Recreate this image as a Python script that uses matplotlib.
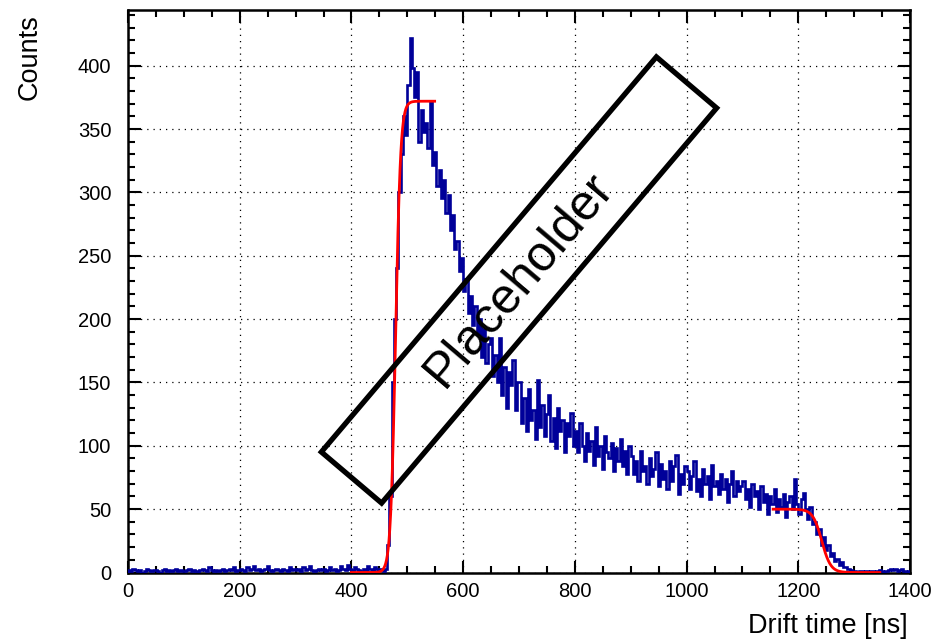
import numpy as np
import matplotlib.pyplot as plt
from matplotlib.patches import Polygon
from matplotlib.ticker import MultipleLocator

plt.rcParams['font.family'] = ['Liberation Sans', 'DejaVu Sans']

# drift time histogram, 4 ns bins from 0 to 1400 ns (one row = 100 ns)
bin_width = 4
counts = [
    2, 1, 3, 2, 1, 2, 0, 1, 3, 2, 1, 2, 2, 1, 0, 2, 3, 1, 2, 1, 2, 3, 1, 2, 1,
    1, 2, 3, 1, 2, 1, 0, 2, 3, 2, 1, 4, 2, 1, 2, 1, 2, 3, 1, 2, 3, 2, 4, 1, 2,
    3, 2, 1, 4, 2, 3, 5, 2, 3, 1, 2, 3, 5, 2, 1, 2, 3, 2, 1, 3, 2, 1, 4, 2, 3,
    2, 3, 1, 4, 2, 3, 5, 2, 1, 2, 3, 2, 3, 1, 2, 4, 2, 3, 1, 2, 5, 3, 2, 6, 3,
    2, 4, 3, 2, 1, 3, 2, 5, 3, 2, 4, 3, 2, 3, 1, 3, 22, 60, 150, 200, 240, 300, 330, 360, 345,
    385, 422, 398, 375, 395, 340, 365, 348, 355, 335, 372, 322, 332, 305, 318, 296, 310, 284, 298, 270, 282, 255, 262, 238, 248,
    222, 232, 205, 218, 195, 210, 188, 200, 170, 192, 165, 180, 185, 155, 172, 150, 185, 140, 162, 130, 158, 148, 168, 128, 150,
    150, 118, 138, 112, 145, 120, 128, 105, 152, 115, 132, 108, 125, 140, 104, 122, 98, 130, 112, 120, 95, 118, 108, 126, 100,
    112, 95, 118, 100, 88, 110, 96, 104, 85, 115, 92, 100, 82, 108, 95, 90, 102, 80, 98, 88, 105, 84, 96, 78, 100,
    92, 78, 88, 72, 96, 80, 84, 70, 90, 76, 82, 95, 68, 86, 74, 80, 66, 88, 72, 84, 93, 62, 78, 70, 84,
    80, 66, 76, 88, 64, 74, 60, 82, 70, 76, 58, 85, 68, 72, 62, 78, 66, 74, 56, 70, 80, 60, 72, 64, 68,
    72, 58, 66, 52, 70, 60, 64, 50, 68, 56, 62, 46, 60, 54, 66, 48, 58, 52, 62, 44, 56, 60, 50, 74, 54,
    46, 58, 63, 50, 42, 52, 38, 40, 30, 34, 22, 28, 18, 22, 13, 15, 9, 11, 6, 8, 4, 4, 3, 2, 1,
    1, 0, 1, 1, 0, 1, 0, 1, 1, 0, 1, 2, 1, 0, 1, 2, 3, 2, 3, 1, 2, 3, 1, 0, 1,
]

# leading edge fit (Fermi function)
rise_amp, rise_t0, rise_width = 372, 479, 4.5
rise_range = (400, 549)
# trailing edge fit
fall_amp, fall_t0, fall_width = 50, 1242, 8.0
fall_range = (1155, 1346)

edges = np.arange(len(counts) + 1) * bin_width

W, H = 931, 641
fig = plt.figure(figsize=(W / 100, H / 100), dpi=100)
ax = fig.add_axes([128 / W, 1 - 572.5 / H, (910 - 128) / W, (572.5 - 10) / H])

ax.stairs(counts, edges, color='#000099', linewidth=1.9, zorder=3)

t = np.linspace(*rise_range, 400)
ax.plot(t, rise_amp / (1 + np.exp(-(t - rise_t0) / rise_width)), color='red', lw=2, zorder=4)
t = np.linspace(*fall_range, 400)
ax.plot(t, fall_amp / (1 + np.exp((t - fall_t0) / fall_width)), color='red', lw=2, zorder=4)

ax.set_xlim(0, 1400)
ax.set_ylim(0, 444)
ax.xaxis.set_major_locator(MultipleLocator(200))
ax.xaxis.set_minor_locator(MultipleLocator(50))
ax.yaxis.set_major_locator(MultipleLocator(50))
ax.yaxis.set_minor_locator(MultipleLocator(10))
ax.tick_params(which='both', direction='in', top=True, right=True, width=1.5, labelsize=14.5)
ax.tick_params(which='major', length=9)
ax.tick_params(which='minor', length=5)
ax.tick_params(axis='y', pad=12)
ax.tick_params(axis='x', pad=7)
ax.grid(True, which='major', color='black', linestyle=(0, (1, 4)), linewidth=0.9)
for s in ax.spines.values():
    s.set_linewidth(1.8)

fig.text(30 / W, 1 - 14 / H, 'Counts', rotation=90, ha='center', va='top', fontsize=19.5)
fig.text(908 / W, 1 - 626 / H, 'Drift time [ns]', ha='right', va='center', fontsize=19.5)

# rotated placeholder box, in pixel coordinates
cx, cy = 519, H - 280
length, width, ang = 518, 79, np.deg2rad(49.7)
u = np.array([np.cos(ang), np.sin(ang)]) * length / 2
v = np.array([-np.sin(ang), np.cos(ang)]) * width / 2
c = np.array([cx, cy])
box = Polygon([c - u - v, c + u - v, c + u + v, c - u + v], closed=True, fill=False,
              edgecolor='black', linewidth=3.8, transform=None, zorder=5)
fig.add_artist(box)
fig.text(cx / W, cy / H, 'Placeholder', rotation=49.7, rotation_mode='anchor',
         ha='center', va='center', fontsize=36, zorder=6)

fig.savefig('out.png', dpi=100)
